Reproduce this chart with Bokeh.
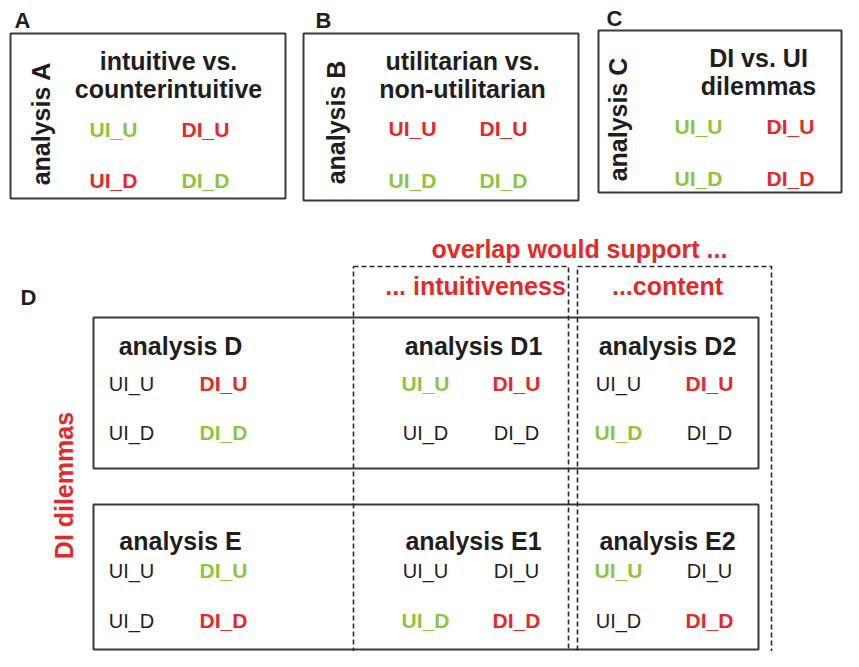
from math import pi
from bokeh.plotting import figure
from bokeh.models import Range1d, ColumnDataSource
from bokeh.embed import file_html
from bokeh.resources import INLINE
from bokeh.core.properties import value

# ---------------- content ----------------
panel_letters = ["A", "B", "C", "D"]
top_names = ["analysis A", "analysis B", "analysis C"]
top_titles = [["intuitive vs.", "counterintuitive"],
              ["utilitarian vs.", "non-utilitarian"],
              ["DI vs. UI", "dilemmas"]]
cell_labels = ["UI_U", "DI_U", "UI_D", "DI_D"]
top_colors = [["g", "r", "r", "g"],
              ["r", "r", "g", "g"],
              ["g", "r", "g", "r"]]
bottom_names = [["analysis D", "analysis D1", "analysis D2"],
                ["analysis E", "analysis E1", "analysis E2"]]
bottom_colors = [[["k", "r", "k", "g"], ["g", "r", "k", "k"], ["k", "r", "g", "k"]],
                 [["k", "g", "k", "r"], ["k", "k", "g", "r"], ["g", "k", "k", "r"]]]
overlap_title = "overlap would support ..."
overlap_labels = ["... intuitiveness", "...content"]
row_label = "DI dilemmas"

# ---------------- styles / layout ----------------
COL = {"g": "#8cc63f", "r": "#e32a2a", "k": "#1e1e1e"}
STYLE = {"g": "bold", "r": "bold", "k": "normal"}
SIZE = {"g": "21px", "r": "21px", "k": "20px"}
FONT = value("Liberation Sans")
BOX = "#3a3a3a"

W, H = 843, 651
p = figure(width=W, height=H, output_backend="svg", toolbar_location=None,
           x_range=Range1d(0, W), y_range=Range1d(H, 0),
           min_border=0)
p.axis.visible = False
p.grid.visible = False
p.outline_line_color = None
p.background_fill_color = "white"
p.border_fill_color = "white"

def texts(xs, ys, ts, colors, styles, sizes, angle=0.0):
    if isinstance(sizes, str):
        sizes = [sizes] * len(xs)
    src = ColumnDataSource(dict(x=xs, y=ys, t=ts, c=colors, s=styles, z=sizes))
    p.text(x="x", y="y", text="t", source=src, text_color="c", text_font_style="s",
           text_font=FONT, text_font_size="z", text_align="center",
           text_baseline="middle", angle=angle)

# solid boxes (top panels)
top_box = [(10, 285, 33, 198), (303, 578, 33, 200), (598, 841, 30, 192)]
for (l, r, t, b) in top_box:
    p.quad(left=l, right=r, top=t, bottom=b, fill_alpha=0, line_color=BOX, line_width=2)

# bottom solid boxes
bot_box = [(93, 758, 317, 468), (93, 758, 504, 649)]
for (l, r, t, b) in bot_box:
    p.quad(left=l, right=r, top=t, bottom=b, fill_alpha=0, line_color=BOX, line_width=2)

# dashed overlap boxes
dash_box = [(353, 568, 266, 720), (577, 771, 266, 720)]
for (l, r, t, b) in dash_box:
    p.quad(left=l, right=r, top=t, bottom=b, fill_alpha=0, line_color="#2a2a2a",
           line_width=1.6, line_dash="5 3")

# panel letters
texts([22, 323, 614, 28], [20, 20, 18, 297], panel_letters, [COL["k"]] * 4, ["bold"] * 4, "22px")

# rotated analysis names for top panels
texts([40, 335, 617], [123, 122, 119], top_names, [COL["k"]] * 3, ["bold"] * 3, "25px", angle=pi / 2)

# top titles
tx = [168, 462, 758]
texts(tx, [60, 60, 57], [t[0] for t in top_titles], [COL["k"]] * 3, ["bold"] * 3, "25px")
texts(tx, [88, 88, 85], [t[1] for t in top_titles], [COL["k"]] * 3, ["bold"] * 3, "25px")

# top cells
top_cols = [(113, 205), (412, 503), (698, 790)]
top_rows = [(129, 180), (128, 180), (126, 178)]
xs, ys, ts, cs, ss = [], [], [], [], []
for i in range(3):
    for j, lab in enumerate(cell_labels):
        xs.append(top_cols[i][j % 2]); ys.append(top_rows[i][j // 2])
        ts.append(lab); cs.append(COL[top_colors[i][j]]); ss.append("bold")
texts(xs, ys, ts, cs, ss, "21px")

# overlap headers
texts([579], [248], [overlap_title], [COL["r"]], ["bold"], "25px")
texts([475, 667], [285, 285], overlap_labels, [COL["r"]] * 2, ["bold"] * 2, "25px")

# DI dilemmas rotated label
texts([63], [485], [row_label], [COL["r"]], ["bold"], "25px", angle=pi / 2)

# bottom panels
name_x = [180, 473, 667]
name_y = [345, 540]
cell_cols = [(131, 223), (425, 516), (618, 709)]
cell_rows = [(383, 432), (570, 620)]
nx, ny, nt = [], [], []
xs, ys, ts, cs, ss, zs = [], [], [], [], [], []
for r in range(2):
    for g in range(3):
        nx.append(name_x[g]); ny.append(name_y[r]); nt.append(bottom_names[r][g])
        for j, lab in enumerate(cell_labels):
            code = bottom_colors[r][g][j]
            xs.append(cell_cols[g][j % 2]); ys.append(cell_rows[r][j // 2])
            ts.append(lab); cs.append(COL[code]); ss.append(STYLE[code]); zs.append(SIZE[code])
texts(nx, ny, nt, [COL["k"]] * len(nt), ["bold"] * len(nt), "25px")
texts(xs, ys, ts, cs, ss, zs)

open("out.html", "w").write(file_html(p, INLINE))
